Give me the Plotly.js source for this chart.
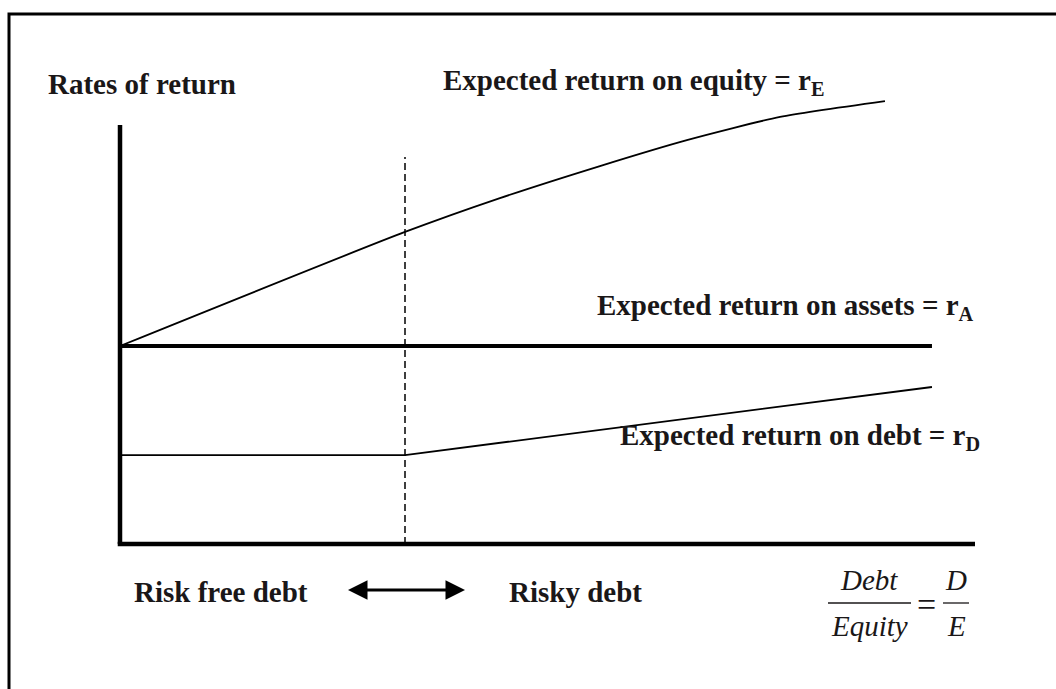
<!DOCTYPE html>
<html>
<head>
<meta charset="utf-8">
<script src="https://cdn.plot.ly/plotly-3.0.1.min.js"></script>
<style>
  html, body { margin: 0; padding: 0; background: #fff; }
  #chart { width: 1056px; height: 689px; }
</style>
</head>
<body>
<div id="chart"></div>
<script>
// ---- Data (D/E ratio on x, rate of return in % on y) ----
const equityX = [0, 1.0, 1.333, 1.684, 1.989, 2.316, 2.684];
const equityY = [10.0, 15.76, 17.47, 19.09, 20.40, 21.57, 22.37];
const assetsX = [0, 2.849];
const assetsY = [10.0, 10.0];
const debtX = [0, 1.0, 2.849];
const debtY = [4.49, 4.49, 7.93];
const riskBoundaryX = [1.0, 1.0];
const riskBoundaryY = [0, 19.55];
const axisTopY = 21.16;
const axisEndX = 3.0;

const labelRates = 'Rates of return';
const labelEquity = 'Expected return on equity = r<sub>E</sub>';
const labelAssets = 'Expected return on assets = r<sub>A</sub>';
const labelDebt = 'Expected return on debt = r<sub>D</sub>';
const labelRiskFree = 'Risk free debt';
const labelRisky = 'Risky debt';
const fracNum = 'Debt', fracDen = 'Equity', fracNum2 = 'D', fracDen2 = 'E';

// ---- Layout geometry ----
const W = 1056, H = 689;
const M = { l: 100, r: 60, t: 50, b: 120 };
const PW = W - M.l - M.r, PH = H - M.t - M.b;
const X0 = 120, XS = 285;   // pixel of x=0, px per unit
const Y0 = 544, YS = 19.8;  // pixel of y=0, px per unit
const xRange = [(M.l - X0) / XS, (M.l + PW - X0) / XS];
const yRange = [(Y0 - (M.t + PH)) / YS, (Y0 - M.t) / YS];
const px = p => (p - M.l) / PW;          // pixel -> paper x
const py = p => 1 - (p - M.t) / PH;      // pixel -> paper y

const ink = '#1a1718';
const serif = 'Liberation Serif, Times New Roman, serif';

const traces = [
  { x: equityX, y: equityY, mode: 'lines', line: { color: '#000', width: 1.8, shape: 'spline', smoothing: 0.6 }, cliponaxis: false, hoverinfo: 'skip' },
  { x: assetsX, y: assetsY, mode: 'lines', line: { color: '#000', width: 4 }, cliponaxis: false, hoverinfo: 'skip' },
  { x: debtX, y: debtY, mode: 'lines', line: { color: '#000', width: 1.8 }, cliponaxis: false, hoverinfo: 'skip' },
  { x: riskBoundaryX, y: riskBoundaryY, mode: 'lines', line: { color: '#000', width: 1.5, dash: '7px,4px' }, cliponaxis: false, hoverinfo: 'skip' },
  // axes
  { x: [0, 0], y: [0, axisTopY], mode: 'lines', line: { color: '#000', width: 4.5 }, cliponaxis: false, hoverinfo: 'skip' },
  { x: [-0.008, axisEndX], y: [0, 0], mode: 'lines', line: { color: '#000', width: 4.5 }, cliponaxis: false, hoverinfo: 'skip' }
];

function lab(text, xpx, ypx, opts) {
  return Object.assign({
    text: text, xref: 'paper', yref: 'paper', x: px(xpx), y: py(ypx),
    xanchor: 'left', yanchor: 'middle', showarrow: false,
    font: { family: serif, size: 29, color: ink, weight: 'bold' }
  }, opts || {});
}
const italic = { family: serif, size: 29, color: ink, style: 'italic' };

const annotations = [
  lab(labelRates, 46, 84),
  lab(labelEquity, 441, 82),
  lab(labelAssets, 595, 307),
  lab(labelDebt, 618, 437),
  lab(labelRiskFree, 132, 592),
  lab(labelRisky, 507, 592),
  // double-headed arrow
  { text: ' ', xref: 'paper', yref: 'paper', x: px(465), y: py(590), ax: 345 - 465, ay: 0,
    showarrow: true, arrowside: 'end+start', arrowhead: 2, arrowsize: 1.3, arrowwidth: 3,
    arrowcolor: '#000', standoff: 0, startstandoff: 0 },
  // fraction Debt / Equity = D / E
  lab(fracNum, 869, 580, { xanchor: 'center', font: italic }),
  lab(fracDen, 869, 626, { xanchor: 'center', font: italic }),
  lab('=', 926, 604, { xanchor: 'center', font: { family: serif, size: 34, color: ink } }),
  lab(fracNum2, 956, 580, { xanchor: 'center', font: italic }),
  lab(fracDen2, 956, 626, { xanchor: 'center', font: italic })
];

const shapes = [
  // outer frame
  { type: 'rect', xref: 'paper', yref: 'paper', x0: px(9), x1: px(1080), y0: py(14), y1: py(720),
    line: { color: '#000', width: 3 }, fillcolor: 'rgba(0,0,0,0)' },
  // fraction bars
  { type: 'line', xref: 'paper', yref: 'paper', x0: px(828), x1: px(911), y0: py(603), y1: py(603), line: { color: ink, width: 1.3 } },
  { type: 'line', xref: 'paper', yref: 'paper', x0: px(943), x1: px(969), y0: py(603), y1: py(603), line: { color: ink, width: 1.3 } }
];

const layout = {
  width: W, height: H,
  margin: M,
  showlegend: false,
  paper_bgcolor: '#fff', plot_bgcolor: 'rgba(0,0,0,0)',
  xaxis: { range: xRange, visible: false, fixedrange: true },
  yaxis: { range: yRange, visible: false, fixedrange: true },
  annotations: annotations,
  shapes: shapes
};

Plotly.newPlot('chart', traces, layout, { staticPlot: true, displayModeBar: false });
</script>
</body>
</html>
